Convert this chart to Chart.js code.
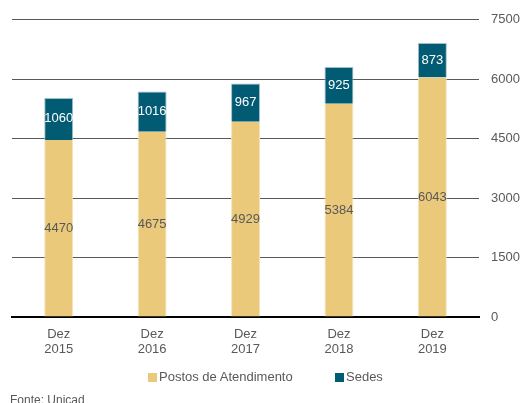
<!DOCTYPE html>
<html>
<head>
<meta charset="utf-8">
<script src="https://cdn.jsdelivr.net/npm/chart.js@4"></script>
<style>
  html, body { margin: 0; padding: 0; background: #fff; overflow: hidden; }
  #wrap { position: relative; width: 532px; height: 403px; overflow: hidden; }
  .txt { position: absolute; font: 13px "Liberation Sans", Arial, sans-serif; color: #595959; white-space: nowrap; line-height: 15px; }
  .box { display: inline-block; width: 9px; height: 9px; margin-right: 2px; vertical-align: -1px; }
  #fonte { font-size: 12px; left: 10px; top: 393px; }
</style>
</head>
<body>
<div id="wrap">
  <canvas id="chart" width="532" height="403"></canvas>
  <div class="txt" id="leg1" style="left:148px; top:369px;"><span class="box" style="background:#EBC97B"></span>Postos de Atendimento</div>
  <div class="txt" id="leg2" style="left:335px; top:369px;"><span class="box" style="background:#005B73"></span>Sedes</div>
  <div class="txt" id="fonte">Fonte: Unicad</div>
</div>
<script>
// Chart data
const categories = [["Dez", "2015"], ["Dez", "2016"], ["Dez", "2017"], ["Dez", "2018"], ["Dez", "2019"]];
const postos = [4470, 4675, 4929, 5384, 6043];
const sedes = [1060, 1016, 967, 925, 873];
const yTicks = [0, 1500, 3000, 4500, 6000, 7500];

const textColor = "#595959";
const font = "Liberation Sans, Arial, sans-serif";

// Value labels in the middle of each bar segment
const barLabels = {
  id: "barLabels",
  afterDatasetsDraw(chart) {
    const ctx = chart.ctx;
    ctx.save();
    ctx.font = "13px " + font;
    ctx.textAlign = "center";
    ctx.textBaseline = "middle";
    chart.data.datasets.forEach((ds, i) => {
      const meta = chart.getDatasetMeta(i);
      ctx.fillStyle = i === 0 ? textColor : "#ffffff";
      meta.data.forEach((bar, j) => {
        const mid = (bar.y + bar.base) / 2;
        ctx.fillText(String(ds.data[j]), bar.x, mid);
      });
    });
    ctx.restore();
  }
};

new Chart(document.getElementById("chart"), {
  type: "bar",
  data: {
    labels: categories,
    datasets: [
      {
        label: "Postos de Atendimento",
        data: postos,
        backgroundColor: "#EBC97B",
        borderColor: "#F4E3BC",
        borderWidth: { left: 1, right: 1 },
        barPercentage: 0.31,
        categoryPercentage: 1
      },
      {
        label: "Sedes",
        data: sedes,
        backgroundColor: "#005B73",
        borderColor: "#9FC0CA",
        borderWidth: { left: 1, right: 1, top: 1 },
        barPercentage: 0.31,
        categoryPercentage: 1
      }
    ]
  },
  options: {
    responsive: false,
    animation: false,
    layout: { padding: { left: 12, right: 0, top: 10, bottom: 44 } },
    plugins: {
      legend: { display: false },
      tooltip: { enabled: false }
    },
    scales: {
      x: {
        stacked: true,
        grid: { display: false },
        border: { color: "#000000", width: 2 },
        ticks: { color: textColor, font: { family: font, size: 13, lineHeight: 1.15 }, padding: 2 }
      },
      y: {
        stacked: true,
        position: "right",
        min: 0,
        max: 7500,
        afterBuildTicks(axis) {
          axis.ticks = yTicks.map(v => ({ value: v }));
        },
        grid: { color: "#595959", lineWidth: 1, drawTicks: false },
        border: { display: false },
        ticks: {
          color: textColor,
          font: { family: font, size: 13 },
          padding: 12,
          callback: v => String(v)
        }
      }
    }
  },
  plugins: [barLabels]
});
</script>
</body>
</html>
